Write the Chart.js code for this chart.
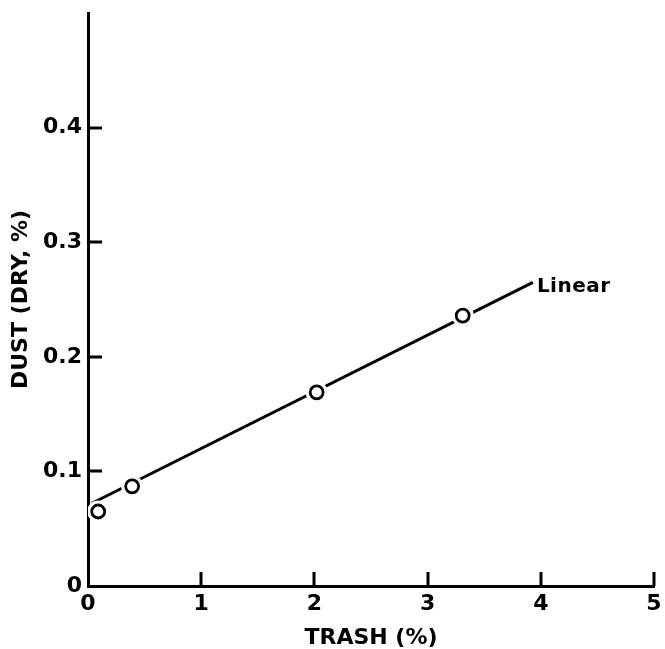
<!DOCTYPE html>
<html lang="en">
<head>
  <meta charset="UTF-8">
  <title>Dust vs Trash</title>
  <script src="https://cdn.jsdelivr.net/npm/chart.js@4"></script>
  <style>
    html, body { margin: 0; padding: 0; background: #fff; }
    .wrap { width: 665px; height: 649px; }
  </style>
</head>
<body>
  <div class="wrap"><canvas id="chart" width="665" height="649"></canvas></div>
  <script>
    // measured samples
    const trashPct = [0.09, 0.39, 2.02, 3.31];
    const dustPct = [0.065, 0.087, 0.169, 0.236];

    // fitted straight line, end points
    const fitX = [0.03, 3.93];
    const fitY = [0.072, 0.265];
    const fitLabel = 'Linear';

    const xTicks = [0, 1, 2, 3, 4, 5];
    const yTicks = [0, 0.1, 0.2, 0.3, 0.4];

    const FONT = "'DejaVu Sans', sans-serif";

    const points = trashPct.map((x, i) => ({ x, y: dustPct[i] }));
    const fitPoints = fitX.map((x, i) => ({ x, y: fitY[i] }));

    // tick marks point inward from the axes
    const innerTicks = {
      id: 'innerTicks',
      afterDraw(chart) {
        const { ctx, chartArea, scales: { x, y } } = chart;
        ctx.save();
        ctx.strokeStyle = '#000';
        ctx.lineWidth = 3;
        ctx.beginPath();
        x.ticks.forEach(t => {
          if (t.value <= 0) return;
          const px = Math.round(x.getPixelForValue(t.value));
          ctx.moveTo(px, chartArea.bottom);
          ctx.lineTo(px, chartArea.bottom - 14);
        });
        y.ticks.forEach(t => {
          if (t.value <= 0) return;
          const py = Math.round(y.getPixelForValue(t.value));
          ctx.moveTo(chartArea.left, py);
          ctx.lineTo(chartArea.left + 14, py);
        });
        ctx.stroke();

        // label at the end of the fit line
        const last = fitPoints[fitPoints.length - 1];
        ctx.fillStyle = '#000';
        ctx.font = 'bold 20px ' + FONT;
        ctx.letterSpacing = '0.5px';
        ctx.textBaseline = 'middle';
        ctx.textAlign = 'left';
        ctx.fillText(fitLabel, x.getPixelForValue(last.x) + 4, y.getPixelForValue(last.y) + 4);
        ctx.restore();
      }
    };

    new Chart(document.getElementById('chart'), {
      type: 'scatter',
      data: {
        datasets: [
          {
            data: points,
            pointRadius: 6.5,
            pointBackgroundColor: '#fff',
            pointBorderColor: '#000',
            pointBorderWidth: 2.8,
            order: 0,
          },
          {
            // white discs open a gap in the line around each circle
            data: points,
            pointRadius: 11,
            pointBackgroundColor: '#fff',
            pointBorderWidth: 0,
            order: 1,
          },
          {
            data: fitPoints,
            showLine: true,
            borderColor: '#000',
            borderWidth: 3,
            pointRadius: 0,
            order: 2,
          },
        ],
      },
      options: {
        responsive: false,
        animation: false,
        devicePixelRatio: 1,
        layout: { padding: { top: 13, right: 7, left: 0, bottom: 0 } },
        plugins: { legend: { display: false }, tooltip: { enabled: false } },
        scales: {
          x: {
            type: 'linear',
            min: 0,
            max: 5,
            afterBuildTicks: s => { s.ticks = xTicks.map(v => ({ value: v })); },
            afterFit: s => { s.height = 63; s.paddingLeft = 0; s.paddingRight = 0; },
            grid: { display: false, drawTicks: false },
            border: { display: true, color: '#000', width: 3 },
            ticks: {
              color: '#000',
              padding: 5,
              font: { family: FONT, size: 22, weight: 'bold' },
              callback: v => String(v),
            },
            title: {
              display: true,
              text: 'TRASH (%)',
              color: '#000',
              padding: { top: -2, bottom: -2 },
              font: { family: FONT, size: 22, weight: 'bold' },
            },
          },
          y: {
            type: 'linear',
            min: 0,
            max: 0.5,
            afterBuildTicks: s => { s.ticks = yTicks.map(v => ({ value: v })); },
            afterFit: s => { s.width = 88; s.paddingTop = 0; s.paddingBottom = 0; },
            grid: { display: false, drawTicks: false },
            border: { display: true, color: '#000', width: 3 },
            ticks: {
              color: '#000',
              padding: 6,
              font: { family: FONT, size: 22, weight: 'bold' },
              callback: v => (v === 0 ? '0' : v.toFixed(1)),
            },
            title: {
              display: true,
              text: 'DUST (DRY, %)',
              color: '#000',
              padding: { top: 8, bottom: 0 },
              font: { family: FONT, size: 22, weight: 'bold' },
            },
          },
        },
      },
      plugins: [innerTicks],
    });
  </script>
</body>
</html>
